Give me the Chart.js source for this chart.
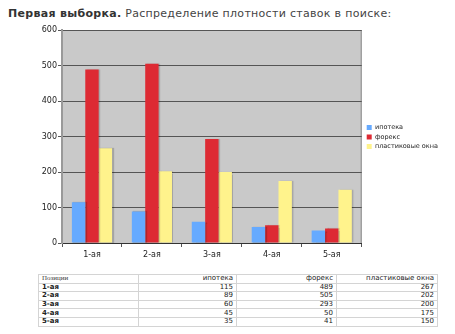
<!DOCTYPE html>
<html lang="ru">
<head>
  <meta charset="UTF-8" />
  <title>Первая выборка</title>
  <script src="https://cdn.jsdelivr.net/npm/chart.js"></script>
  <style>
    body {
      margin: 0;
      background: #fff;
      font-family: "DejaVu Sans", Verdana, sans-serif;
      width: 455px;
      height: 334px;
      position: relative;
      overflow: hidden;
    }

    .title {
      position: absolute;
      left: 8px;
      top: 7px;
      font-size: 11px;
      line-height: 14px;
      color: #444;
      letter-spacing: 0.3px;
      white-space: nowrap;
    }

    .title b {
      color: #333;
    }

    .chart-box {
      position: absolute;
      left: 0;
      top: 0;
      width: 455px;
      height: 270px;
    }

    table {
      position: absolute;
      left: 38px;
      top: 274px;
      width: 400px;
      table-layout: fixed;
      border-collapse: collapse;
      font-size: 7px;
      color: #222;
    }

    td {
      border: 1px solid #d4d4d4;
      height: 7.6px;
      line-height: 7px;
      padding: 0 3px;
      text-align: right;
      overflow: hidden;
      white-space: nowrap;
    }

    td:first-child {
      text-align: left;
      font-weight: bold;
    }

    tr.head td:first-child {
      font-family: "Liberation Serif", serif;
      font-weight: normal;
      color: #444;
    }
  </style>
</head>
<body>
  <div class="title"><b>Первая выборка.</b> Распределение плотности ставок в поиске:</div>

  <div class="chart-box">
    <canvas id="densityChart" width="455" height="270"></canvas>
  </div>

  <table id="densityTable">
    <colgroup>
      <col style="width:100px" />
      <col style="width:98px" />
      <col style="width:100px" />
      <col style="width:101px" />
    </colgroup>
  </table>

  <script>
    const categories = ['1-ая', '2-ая', '3-ая', '4-ая', '5-ая'];
    const seriesNames = ['ипотека', 'форекс', 'пластиковые окна'];
    const mortgage = [115, 89, 60, 45, 35];
    const forex = [489, 505, 293, 50, 41];
    const windows = [267, 202, 200, 175, 150];
    const yTicks = [0, 100, 200, 300, 400, 500, 600];

    const colors = ['#66aaff', '#dd2a33', '#fff38c'];
    const series = [mortgage, forex, windows];

    // gray plot background and right border of the plot
    const plotFrame = {
      id: 'plotFrame',
      beforeDraw(chart) {
        const { ctx, chartArea: a } = chart;
        ctx.save();
        ctx.fillStyle = '#c9c9c9';
        ctx.fillRect(a.left, a.top, a.right - a.left, a.bottom - a.top);
        ctx.strokeStyle = '#8a8a8a';
        ctx.lineWidth = 1;
        ctx.beginPath();
        ctx.moveTo(a.right - 0.5, a.top);
        ctx.lineTo(a.right - 0.5, a.bottom);
        ctx.stroke();
        ctx.restore();
      }
    };

    // soft shadow to the right of each bar
    const barShadow = {
      id: 'barShadow',
      beforeDatasetsDraw(chart) {
        const ctx = chart.ctx;
        ctx.save();
        ctx.shadowColor = 'rgba(0,0,0,0.18)';
        ctx.shadowOffsetX = 1.5;
        ctx.shadowOffsetY = 0;
        ctx.shadowBlur = 1;
      },
      afterDatasetsDraw(chart) {
        chart.ctx.restore();
      }
    };

    // legend sits a few pixels right of the plot, centred on it
    const legendShift = {
      id: 'legendShift',
      afterLayout(chart) {
        const lg = chart.legend;
        lg.left += 2;
        lg.right += 2;
        lg.top -= 13;
        lg.bottom -= 13;
      }
    };

    const ctx = document.getElementById('densityChart').getContext('2d');

    const chart = new Chart(ctx, {
      type: 'bar',
      data: {
        labels: categories,
        datasets: series.map((values, i) => ({
          label: seriesNames[i],
          data: values,
          backgroundColor: colors[i],
          borderWidth: 0,
          categoryPercentage: 0.67,
          barPercentage: 1.0
        }))
      },
      options: {
        responsive: false,
        animation: false,
        layout: {
          padding: { top: 30, right: 9, bottom: 0, left: 0 }
        },
        plugins: {
          tooltip: { enabled: false },
          legend: {
            position: 'right',
            labels: {
              boxWidth: 5,
              boxHeight: 5,
              padding: 3,
              color: '#222',
              font: { family: 'DejaVu Sans', size: 6.5 }
            }
          }
        },
        scales: {
          x: {
            grid: {
              drawOnChartArea: false,
              drawTicks: true,
              tickLength: 4,
              color: '#555'
            },
            border: { display: true, color: '#333', width: 1 },
            ticks: {
              color: '#222',
              padding: 3,
              font: { family: 'DejaVu Sans', size: 8 }
            },
            afterFit(scale) { scale.height = 27; }
          },
          y: {
            min: yTicks[0],
            max: yTicks[yTicks.length - 1],
            afterBuildTicks(scale) {
              scale.ticks = yTicks.map(v => ({ value: v }));
            },
            grid: {
              color: '#555',
              lineWidth: 1,
              drawTicks: true,
              tickLength: 4
            },
            border: { display: true, color: '#999', width: 2 },
            ticks: {
              color: '#222',
              padding: 1,
              font: { family: 'DejaVu Sans', size: 8 }
            },
            afterFit(scale) { scale.width = 62; }
          }
        }
      },
      plugins: [plotFrame, barShadow, legendShift]
    });

    // data table under the chart
    const table = document.getElementById('densityTable');
    const head = document.createElement('tr');
    head.className = 'head';
    ['Позиции', ...seriesNames].forEach(text => {
      const td = document.createElement('td');
      td.textContent = text;
      head.appendChild(td);
    });
    table.appendChild(head);

    categories.forEach((cat, r) => {
      const tr = document.createElement('tr');
      [cat, ...series.map(s => s[r])].forEach(text => {
        const td = document.createElement('td');
        td.textContent = text;
        tr.appendChild(td);
      });
      table.appendChild(tr);
    });
  </script>
</body>
</html>
